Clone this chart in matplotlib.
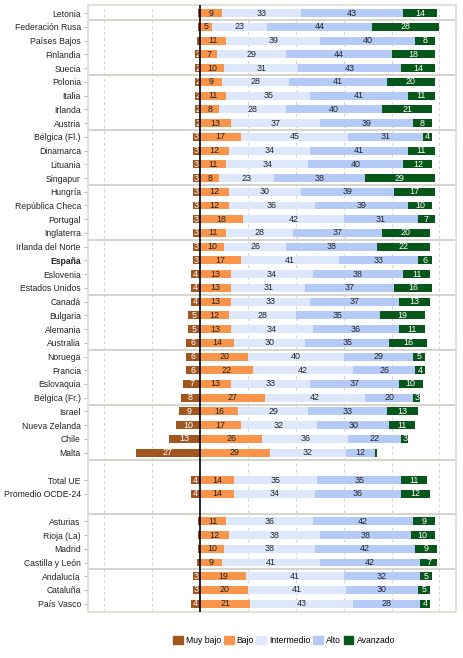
import matplotlib
matplotlib.use("Agg")
import matplotlib.pyplot as plt
from matplotlib.patches import Patch

plt.rcParams['font.family'] = ['Liberation Sans', 'DejaVu Sans']

categories = ["Letonia", "Federación Rusa", "Países Bajos", "Finlandia", "Suecia",
              "Polonia", "Italia", "Irlanda", "Austria",
              "Bélgica (Fl.)", "Dinamarca", "Lituania", "Singapur",
              "Hungría", "República Checa", "Portugal", "Inglaterra",
              "Irlanda del Norte", "España", "Eslovenia", "Estados Unidos",
              "Canadá", "Bulgaria", "Alemania", "Australia",
              "Noruega", "Francia", "Eslovaquia", "Bélgica (Fr.)",
              "Israel", "Nueva Zelanda", "Chile", "Malta",
              "Total UE", "Promedio OCDE-24",
              "Asturias", "Rioja (La)", "Madrid", "Castilla y León",
              "Andalucía", "Cataluña", "País Vasco"]

muy_bajo = [0.7, 0.8, 1.3, 2, 2, 2, 2, 2, 2, 3, 3, 3, 3, 3, 3, 3, 3, 3, 3, 4, 4,
            4, 5, 5, 6, 6, 6, 7, 8, 9, 10, 13, 27, 4, 4, 0.8, 0.8, 1.1, 1.3, 3, 3, 4]
bajo = [9, 5, 11, 7, 10, 9, 11, 8, 13, 17, 12, 11, 8, 12, 12, 18, 11, 10, 17, 13, 13,
        13, 12, 13, 14, 20, 22, 13, 27, 16, 17, 26, 29, 14, 14, 11, 12, 10, 9, 19, 20, 21]
intermedio = [33, 23, 39, 29, 31, 28, 35, 28, 37, 45, 34, 34, 23, 30, 36, 42, 28, 26, 41, 34, 31,
              33, 28, 34, 30, 40, 42, 33, 42, 29, 32, 36, 32, 35, 34, 36, 38, 38, 41, 41, 41, 43]
alto = [43, 44, 40, 44, 43, 41, 41, 40, 39, 31, 41, 40, 38, 39, 39, 31, 37, 38, 33, 38, 37,
        37, 35, 36, 35, 29, 26, 37, 20, 33, 30, 22, 12, 35, 36, 42, 38, 42, 42, 32, 30, 28]
avanzado = [14, 28, 8, 18, 14, 20, 11, 21, 8, 4, 11, 12, 29, 17, 10, 7, 20, 22, 6, 11, 16,
            13, 19, 11, 16, 5, 4, 10, 3, 13, 11, 3, 0.8, 11, 12, 9, 10, 9, 7, 5, 5, 4]

series_names = ["Muy bajo", "Bajo", "Intermedio", "Alto", "Avanzado"]
colors = ["#A2561F", "#F9954A", "#DDE8FC", "#B4CBF8", "#07561A"]
text_colors = ["white", "#222222", "#222222", "#222222", "white"]

gap_after = ["Malta", "Promedio OCDE-24"]
sep_before = ["Federación Rusa", "Polonia", "Bélgica (Fl.)", "Hungría", "Irlanda del Norte",
              "Canadá", "Noruega", "Israel", "Asturias", "Andalucía"]
sep_after = ["Malta"]

# positions
pos = []
p = 0
for c in categories:
    pos.append(p)
    p += 1
    if c in gap_after:
        p += 1
n_rows = p

fig = plt.figure(figsize=(4.64, 6.58), dpi=100)
ax = fig.add_axes([0.189, 0.070, 0.794, 0.9224])

bh = 0.58
fs = 6.4

# Muy bajo to the left
ax.barh(pos, [-v for v in muy_bajo], height=bh, left=0, color=colors[0], zorder=3)
for y, v in zip(pos, muy_bajo):
    if v >= 1.5:
        ax.text(-v / 2, y, f"{v:.0f}", ha="center", va="center", fontsize=fs,
                color=text_colors[0], zorder=4)

left = [0.0] * len(categories)
for k, vals in enumerate([bajo, intermedio, alto, avanzado], start=1):
    ax.barh(pos, vals, height=bh, left=left, color=colors[k], zorder=3)
    for y, l, v in zip(pos, left, vals):
        if v >= 1.5:
            ax.text(l + v / 2, y, f"{v:.0f}", ha="center", va="center", fontsize=fs,
                    color=text_colors[k], zorder=4)
    left = [a + b for a, b in zip(left, vals)]

ax.set_xlim(-47, 107)
ax.set_ylim(n_rows - 1 + 0.6, -0.6)

ax.set_xticks([-40, -20, 20, 40, 60, 80, 100])
ax.xaxis.grid(True, linestyle=(0, (3, 3)), color="#d2d2d2", linewidth=0.7, zorder=0)
ax.tick_params(axis="x", length=0, labelbottom=False)
ax.axvline(0, color="black", linewidth=1.2, zorder=5)

ax.set_yticks(pos)
ax.set_yticklabels(categories, fontsize=6.2, color="#222222")
for lbl in ax.get_yticklabels():
    if lbl.get_text() == "España":
        lbl.set_fontweight("bold")
ax.tick_params(axis="y", length=3, width=0.6, color="#aaaaaa", pad=2)

for c in sep_before:
    ax.axhline(pos[categories.index(c)] - 0.5, color="#d3d0c6", linewidth=1.3, zorder=2)
for c in sep_after:
    ax.axhline(pos[categories.index(c)] + 0.5, color="#d3d0c6", linewidth=1.3, zorder=2)

for s in ax.spines.values():
    s.set_color("#dedbd3")
    s.set_linewidth(1.2)

handles = [Patch(facecolor=col, edgecolor=col, label=nm) for col, nm in zip(colors, series_names)]
fig.legend(handles=handles, loc="center", bbox_to_anchor=(0.612, 0.027), ncol=5,
           frameon=False, fontsize=6.2, handlelength=1.15, handleheight=1.15,
           handletextpad=0.35, columnspacing=0.3)

fig.savefig("out.png", dpi=100)
